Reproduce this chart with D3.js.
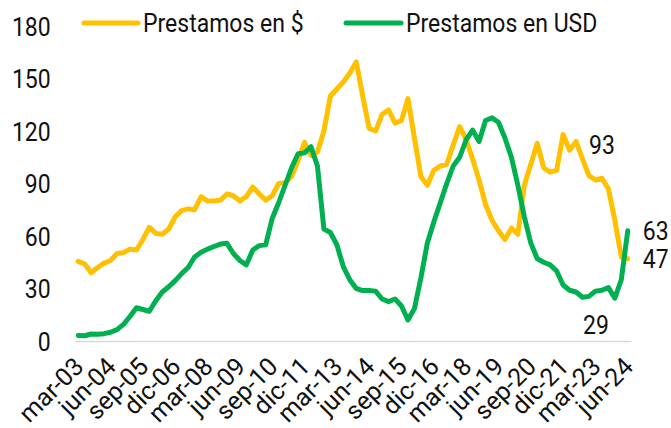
<!DOCTYPE html>
<html lang="es">
<head>
    <meta charset="UTF-8">
    <title>Prestamos en $ y en USD</title>
    <script src="https://d3js.org/d3.v7.min.js"></script>
    <style>
        body {
            margin: 0;
            padding: 0;
            background-color: white;
        }
        svg {
            display: block;
            font-family: 'Roboto', sans-serif;
        }
        .tick text, .legend-label, .data-label {
            fill: #111;
            font-size: 25px;
        }
        .serie {
            fill: none;
            stroke-width: 5;
            stroke-linejoin: round;
            stroke-linecap: round;
        }
    </style>
</head>
<body>
    <svg width="671" height="428"></svg>

    <script>
        // trimestres, mar-03 a jun-24
        const categories = [
            "mar-03","jun-03","sep-03","dic-03","mar-04","jun-04","sep-04","dic-04",
            "mar-05","jun-05","sep-05","dic-05","mar-06","jun-06","sep-06","dic-06",
            "mar-07","jun-07","sep-07","dic-07","mar-08","jun-08","sep-08","dic-08",
            "mar-09","jun-09","sep-09","dic-09","mar-10","jun-10","sep-10","dic-10",
            "mar-11","jun-11","sep-11","dic-11","mar-12","jun-12","sep-12","dic-12",
            "mar-13","jun-13","sep-13","dic-13","mar-14","jun-14","sep-14","dic-14",
            "mar-15","jun-15","sep-15","dic-15","mar-16","jun-16","sep-16","dic-16",
            "mar-17","jun-17","sep-17","dic-17","mar-18","jun-18","sep-18","dic-18",
            "mar-19","jun-19","sep-19","dic-19","mar-20","jun-20","sep-20","dic-20",
            "mar-21","jun-21","sep-21","dic-21","mar-22","jun-22","sep-22","dic-22",
            "mar-23","jun-23","sep-23","dic-23","mar-24","jun-24"
        ];

        const prestamosPesos = [
            45.5, 44, 39, 42, 44.5, 46, 50, 50.5, 52.5, 52,
            58, 65, 61.5, 61, 64, 71, 74.5, 75.5, 75, 82.5,
            80, 80, 80.5, 84, 83, 80, 82.5, 88, 84, 80.5,
            83, 90, 90.5, 94, 103, 113.5, 106, 108, 120, 140,
            144, 148, 153, 159.5, 140, 121.5, 120, 129.5, 132, 124.5,
            126, 138.5, 116, 94, 89, 97.5, 100, 101, 112, 122.5,
            115, 104, 92, 78, 69, 63, 58, 64.5, 61, 89,
            101, 113, 99, 96.5, 97.5, 118, 109, 114, 104, 94.5,
            92, 93, 87, 69, 48, 47
        ];

        const prestamosUSD = [
            3.2, 3, 4, 3.8, 4.2, 5, 6.5, 9.5, 14, 19,
            18, 17, 23, 28, 31, 34.5, 38.5, 42, 48, 50.7,
            52.5, 54, 55.4, 55.8, 50, 46, 43.5, 52, 54.5, 55,
            70, 79, 89, 99, 107, 107.5, 111, 100, 64, 62,
            55, 42.5, 35, 30, 28.8, 28.8, 28.5, 24, 22.5, 24,
            20, 12, 18.5, 36, 56, 68, 79, 90, 100, 105,
            115, 120.5, 114, 126, 127.5, 125, 116, 105, 89, 71,
            56, 47, 45, 43.5, 40, 32, 29, 28, 25, 25.5,
            28.5, 29, 30.5, 24.5, 35, 63
        ];

        const yTicks = [0, 30, 60, 90, 120, 150, 180];

        const xTickLabels = [
            "mar-03","jun-04","sep-05","dic-06","mar-08","jun-09",
            "sep-10","dic-11","mar-13","jun-14","sep-15","dic-16",
            "mar-18","jun-19","sep-20","dic-21","mar-23","jun-24"
        ];

        const series = [
            { name: "Prestamos en $", values: prestamosPesos, color: "#FFC000" },
            { name: "Prestamos en USD", values: prestamosUSD, color: "#00B050" }
        ];

        // etiquetas de datos: serie, trimestre, posicion
        const dataLabels = [
            { serie: 0, cat: "jun-23", pos: "above" },
            { serie: 1, cat: "jun-23", pos: "below" },
            { serie: 0, cat: "jun-24", pos: "right" },
            { serie: 1, cat: "jun-24", pos: "right" }
        ];

        const svg = d3.select("svg");
        const sx = 0.92; // letra angosta

        const xScale = d3.scaleBand()
                         .domain(categories)
                         .range([75, 631])
                         .padding(0);

        const yScale = d3.scaleLinear()
                         .domain([0, 180])
                         .range([341, 26]);

        const xPos = function(c) { return xScale(c) + xScale.bandwidth() / 2; };

        // eje y
        const yAxis = svg.append("g")
            .attr("transform", "translate(58,0)")
            .call(d3.axisLeft(yScale).tickValues(yTicks).tickSize(0).tickPadding(8));
        yAxis.select(".domain").remove();
        yAxis.selectAll(".tick text")
            .attr("dy", "0.36em")
            .attr("transform", "scale(" + sx + ",1)")
            .style("font-family", "Roboto, sans-serif");

        // eje x
        const xAxis = svg.append("g")
            .attr("transform", "translate(0,341)")
            .call(d3.axisBottom(xScale).tickValues(xTickLabels).tickSize(0).tickSizeOuter(0));
        xAxis.select(".domain")
            .attr("stroke", "#d9d9d9")
            .attr("stroke-width", 1.5);
        xAxis.selectAll(".tick text")
            .attr("x", 0)
            .attr("y", 0)
            .attr("dy", 0)
            .attr("text-anchor", "end")
            .attr("transform", "translate(7,27) rotate(-45)")
            .style("font-family", "Roboto, sans-serif");

        // lineas
        const line = d3.line()
            .x(function(d, i) { return xPos(categories[i]); })
            .y(function(d) { return yScale(d); });

        svg.selectAll(".serie")
            .data(series)
            .enter()
            .append("path")
            .attr("class", "serie")
            .attr("stroke", function(d) { return d.color; })
            .attr("d", function(d) { return line(d.values); });

        // leyenda
        const legendItems = [
            { x1: 84, x2: 138, tx: 143 },
            { x1: 346, x2: 401, tx: 406 }
        ];
        const legendY = 23;

        legendItems.forEach(function(d, i) {
            svg.append("line")
               .attr("x1", d.x1)
               .attr("x2", d.x2)
               .attr("y1", legendY)
               .attr("y2", legendY)
               .attr("stroke", series[i].color)
               .attr("stroke-width", 5)
               .attr("stroke-linecap", "round");

            svg.append("text")
               .attr("class", "legend-label")
               .attr("transform", "translate(" + d.tx + "," + legendY + ") scale(" + sx + ",1)")
               .attr("dy", "0.36em")
               .text(series[i].name);
        });

        // etiquetas de datos
        dataLabels.forEach(function(d) {
            const idx = categories.indexOf(d.cat);
            const v = series[d.serie].values[idx];
            const px = xPos(d.cat);
            const py = yScale(v);
            let tx = px, ty = py, anchor = "middle";
            if (d.pos === "above") { ty = py - 33; }
            if (d.pos === "below") { tx = px - 6; ty = py + 35; }
            if (d.pos === "right") { tx = px + 15; anchor = "start"; }

            svg.append("text")
               .attr("class", "data-label")
               .attr("transform", "translate(" + tx + "," + ty + ") scale(" + sx + ",1)")
               .attr("dy", "0.36em")
               .attr("text-anchor", anchor)
               .text(Math.round(v));
        });
    </script>
</body>
</html>
